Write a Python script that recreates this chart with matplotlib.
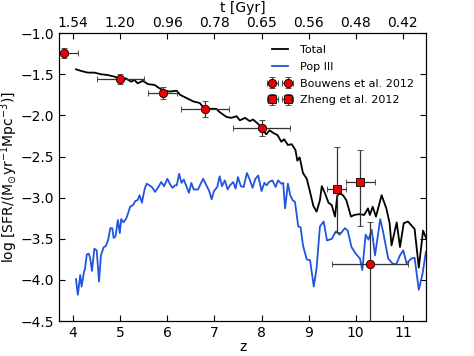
import numpy as np
import matplotlib
matplotlib.use('Agg')
import matplotlib.pyplot as plt

# Total SFR
z_tot = [4.06, 4.17, 4.31, 4.45, 4.59, 4.74, 4.88, 5.02, 5.12, 5.23, 5.30, 5.37, 5.48, 5.59,
         5.73, 5.83, 5.94, 6.05, 6.20, 6.27, 6.41, 6.55, 6.69, 6.76, 6.90, 7.04, 7.11, 7.26,
         7.36, 7.47, 7.54, 7.65, 7.75, 7.82, 7.96, 8.03, 8.10, 8.17, 8.24, 8.34, 8.42, 8.48,
         8.56, 8.64, 8.72, 8.76, 8.81, 8.88, 8.96, 9.03, 9.10, 9.17, 9.24, 9.28, 9.35, 9.42,
         9.49, 9.56, 9.61, 9.67, 9.73, 9.80, 9.90, 9.97, 10.08, 10.18, 10.26, 10.30, 10.36,
         10.43, 10.55, 10.65, 10.72, 10.76, 10.87, 10.94, 11.02, 11.11, 11.25, 11.34, 11.43, 11.50]
sfr_tot = [-1.44, -1.46, -1.48, -1.48, -1.50, -1.51, -1.53, -1.56, -1.55, -1.59, -1.57, -1.61,
           -1.58, -1.62, -1.63, -1.67, -1.70, -1.71, -1.70, -1.75, -1.79, -1.83, -1.85, -1.90,
           -1.92, -1.92, -1.96, -2.02, -2.03, -2.01, -2.06, -2.03, -2.07, -2.05, -2.12, -2.18,
           -2.23, -2.18, -2.21, -2.24, -2.32, -2.29, -2.36, -2.35, -2.42, -2.55, -2.51, -2.70,
           -2.77, -2.93, -3.10, -3.17, -3.03, -2.86, -2.95, -3.06, -3.09, -3.23, -2.97, -2.95,
           -2.97, -3.03, -3.23, -3.21, -3.20, -3.21, -3.13, -3.21, -3.11, -3.23, -2.97, -3.13,
           -3.31, -3.58, -3.30, -3.60, -3.31, -3.29, -3.38, -3.85, -3.40, -3.50]

# Pop III SFR
z_p3 = [4.06, 4.10, 4.15, 4.18, 4.23, 4.25, 4.29, 4.33, 4.36, 4.40, 4.45, 4.50, 4.55, 4.59,
        4.65, 4.69, 4.74, 4.79, 4.83, 4.86, 4.90, 4.95, 4.99, 5.02, 5.07, 5.13, 5.16, 5.21,
        5.27, 5.32, 5.37, 5.41, 5.46, 5.52, 5.56, 5.62, 5.67, 5.74, 5.81, 5.87, 5.93, 6.00,
        6.05, 6.11, 6.16, 6.20, 6.25, 6.30, 6.35, 6.41, 6.46, 6.51, 6.56, 6.65, 6.76, 6.83,
        6.89, 6.94, 6.99, 7.06, 7.11, 7.16, 7.22, 7.28, 7.33, 7.40, 7.45, 7.50, 7.56, 7.62,
        7.69, 7.75, 7.81, 7.87, 7.93, 8.00, 8.06, 8.11, 8.16, 8.23, 8.30, 8.35, 8.42, 8.46,
        8.50, 8.56, 8.61, 8.66, 8.71, 8.78, 8.83, 8.88, 8.96, 9.03, 9.11, 9.17, 9.24, 9.32,
        9.39, 9.49, 9.58, 9.66, 9.77, 9.83, 9.91, 10.00, 10.09, 10.14, 10.21, 10.27, 10.34,
        10.41, 10.52, 10.58, 10.69, 10.78, 10.86, 10.94, 11.01, 11.08, 11.18, 11.25, 11.34,
        11.42, 11.49]
sfr_p3 = [-3.99, -4.18, -3.94, -4.08, -3.90, -3.87, -3.69, -3.68, -3.73, -3.89, -3.62, -3.64,
          -4.02, -3.70, -3.60, -3.59, -3.52, -3.37, -3.37, -3.49, -3.47, -3.27, -3.43, -3.26,
          -3.30, -3.25, -3.20, -3.11, -3.09, -3.04, -3.03, -2.97, -3.06, -2.89, -2.83, -2.85,
          -2.87, -2.93, -2.87, -2.81, -2.86, -2.77, -2.83, -2.88, -2.85, -2.85, -2.71, -2.82,
          -2.78, -2.87, -2.94, -2.82, -2.90, -2.90, -2.77, -2.85, -2.92, -3.02, -2.92, -2.87,
          -2.74, -2.86, -2.79, -2.90, -2.85, -2.81, -2.89, -2.75, -2.86, -2.87, -2.70, -2.78,
          -2.88, -2.77, -2.73, -2.92, -2.82, -2.85, -2.81, -2.79, -2.87, -2.79, -2.83, -2.82,
          -3.13, -2.83, -2.97, -3.03, -3.05, -3.35, -3.36, -3.58, -3.75, -3.76, -4.08, -3.85,
          -3.35, -3.29, -3.52, -3.50, -3.41, -3.45, -3.37, -3.40, -3.60, -3.68, -3.74, -3.88,
          -3.45, -3.51, -3.39, -3.70, -3.26, -3.41, -3.74, -3.80, -3.81, -3.70, -3.64, -3.80,
          -3.74, -3.73, -4.12, -3.92, -3.66]

# Bouwens et al. 2012
z_b12 = [3.8, 5.0, 5.9, 6.8, 8.0, 10.3]
sfr_b12 = [-1.24, -1.56, -1.73, -1.92, -2.15, -3.80]
zerr_b12 = [0.3, 0.5, 0.3, 0.5, 0.6, 0.8]
err_lo_b12 = [0.06, 0.06, 0.075, 0.1, 0.1, 1.5]
err_hi_b12 = [0.06, 0.06, 0.075, 0.1, 0.1, 0.5]

# Zheng et al. 2012
z_z12 = [9.6, 10.1]
sfr_z12 = [-2.90, -2.81]
zerr_z12 = [0.2, 0.3]
err_lo_z12 = [0.52, 0.54]
err_hi_z12 = [0.52, 0.39]

z_ticks = [4, 5, 6, 7, 8, 9, 10, 11]
t_labels = ['1.54', '1.20', '0.96', '0.78', '0.65', '0.56', '0.48', '0.42']

plt.rcParams['font.size'] = 10
plt.rcParams['mathtext.default'] = 'regular'

fig = plt.figure(figsize=(4.74, 3.56), dpi=100)
ax = fig.add_axes([0.1245, 0.098, 0.775, 0.809])

ax.plot(z_tot, sfr_tot, color='k', lw=1.3, label='Total')
ax.plot(z_p3, sfr_p3, color='#2255dd', lw=1.3, label='Pop III')
ax.errorbar(z_b12, sfr_b12, xerr=zerr_b12, yerr=[err_lo_b12, err_hi_b12], fmt='o',
            color='#ee0000', mec='k', mew=0.6, ms=6, ecolor='#333333', elinewidth=0.9,
            capsize=2.5, label='Bouwens et al. 2012')
ax.errorbar(z_z12, sfr_z12, xerr=zerr_z12, yerr=[err_lo_z12, err_hi_z12], fmt='s',
            color='#ee0000', mec='k', mew=0.6, ms=6, ecolor='#333333', elinewidth=0.9,
            capsize=2.5, label='Zheng et al. 2012')

ax.set_xlim(3.7, 11.5)
ax.set_ylim(-4.5, -1.0)
ax.set_xticks(z_ticks)
ax.set_yticks(np.arange(-4.5, -0.99, 0.5))
ax.set_xlabel('z', labelpad=0)
ax.set_ylabel(r'log [SFR/(M$_{\odot}$yr$^{-1}$Mpc$^{-3}$)]')
ax.yaxis.set_label_coords(-0.105, 0.5)
ax.tick_params(direction='in', top=False, right=True, length=4)

ax2 = ax.twiny()
ax2.set_xlim(ax.get_xlim())
ax2.set_xticks(z_ticks)
ax2.set_xticklabels(t_labels)
ax2.tick_params(direction='in', length=4, pad=2)
ax2.set_xlabel('t [Gyr]', labelpad=3)

ax.legend(loc='upper right', bbox_to_anchor=(1.0, 1.0), frameon=False, numpoints=2,
          fontsize=8, handlelength=2.0, handletextpad=0.8, labelspacing=0.6,
          borderaxespad=0.7)

fig.savefig('out.png', dpi=100)
